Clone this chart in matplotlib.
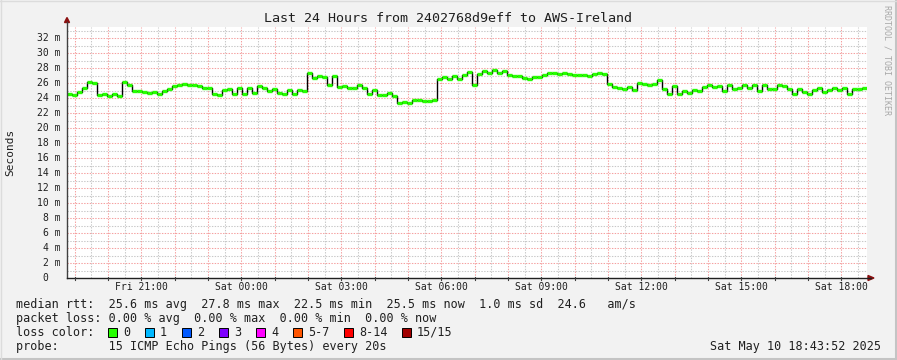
import matplotlib
matplotlib.use("Agg")
import matplotlib.pyplot as plt
from matplotlib.lines import Line2D
from matplotlib.patches import Polygon, Rectangle
import numpy as np

plt.rcParams['font.family'] = ['DejaVu Sans Mono']
plt.rcParams['lines.scale_dashes'] = False

# ---- data ----
title = "Last 24 Hours from 2402768d9eff to AWS-Ireland"
start_hour = 18.772          # Fri 18:46 (hours since Fri 00:00)
step_hours = 0.15            # 9 minutes per sample
median_rtt_ms = [
    24.6, 24.4, 24.8, 25.4, 26.1, 26.0, 24.4, 24.6, 24.3, 24.5,
    24.3, 26.2, 25.8, 24.9, 24.9, 24.8, 24.7, 24.8, 24.6, 24.9,
    25.2, 25.6, 25.7, 25.9, 25.7, 25.7, 25.6, 25.3, 25.4, 24.5,
    24.4, 25.1, 25.2, 24.5, 25.4, 24.5, 25.3, 24.7, 25.6, 25.3,
    25.0, 25.2, 24.7, 24.6, 25.1, 24.5, 25.1, 25.0, 27.3, 26.7,
    26.9, 26.8, 25.8, 26.9, 25.5, 25.6, 25.4, 25.3, 25.8, 25.4,
    24.6, 25.1, 24.4, 24.4, 24.7, 24.3, 23.3, 23.5, 23.4, 23.8,
    23.8, 23.6, 23.6, 23.7, 26.5, 26.8, 26.6, 27.0, 26.6, 27.1,
    27.5, 25.8, 27.2, 27.6, 27.3, 27.8, 27.4, 27.6, 27.1, 26.9,
    27.0, 26.7, 26.6, 26.8, 26.8, 27.1, 27.3, 27.4, 27.2, 27.4,
    27.2, 27.1, 27.1, 27.1, 27.0, 27.2, 27.3, 27.2, 25.9, 25.5,
    25.4, 25.2, 25.5, 25.1, 26.0, 25.9, 25.7, 25.9, 26.4, 25.2,
    24.6, 25.6, 24.6, 25.0, 24.7, 25.1, 24.9, 25.5, 25.7, 25.5,
    25.6, 24.9, 25.7, 25.2, 25.3, 25.7, 25.4, 25.7, 25.0, 25.8,
    25.2, 25.2, 25.7, 25.6, 25.2, 24.5, 25.2, 24.8, 24.6, 25.1,
    25.3, 24.8, 25.1, 25.3, 25.1, 25.3, 24.6, 25.2, 25.2, 25.4,
]
x_tick_hours = [21, 24, 27, 30, 33, 36, 39, 42]
x_tick_labels = ["Fri 21:00", "Sat 00:00", "Sat 03:00", "Sat 06:00",
                 "Sat 09:00", "Sat 12:00", "Sat 15:00", "Sat 18:00"]
y_ticks = list(range(0, 33, 2))
y_tick_labels = ["0  "] + [f"{v} m" for v in y_ticks[1:]]
loss_labels = ["0", "1", "2", "3", "4", "5-7", "8-14", "15/15"]
loss_colors = ["#26ff00", "#00b8ff", "#0059ff", "#7e00ff", "#ff00ff",
               "#ff5500", "#ff0000", "#a10000"]
legend_lines = [
    "median rtt:  25.6 ms avg  27.8 ms max  22.5 ms min  25.5 ms now  1.0 ms sd  24.6   am/s",
    "packet loss: 0.00 % avg  0.00 % max  0.00 % min  0.00 % now",
    "loss color:",
    "probe:       15 ICMP Echo Pings (56 Bytes) every 20s",
]
timestamp = "Sat May 10 18:43:52 2025"

# ---- figure ----
W, H = 897, 360
fig = plt.figure(figsize=(W / 100, H / 100), dpi=100, facecolor="#f2f2f2")


def fx(x):
    return x / W


def fy(y):
    return 1 - y / H


L, R, T, B = 67, 867, 27, 278
ax = fig.add_axes([fx(L), fy(B), (R - L) / W, (B - T) / H], facecolor="white")
ymax = (B - T) / 7.5
xmin, xmax = start_hour, start_hour + 24
ax.set_xlim(xmin, xmax)
ax.set_ylim(0, ymax)
for s in ax.spines.values():
    s.set_visible(False)
ax.set_xticks([])
ax.set_yticks([])

dot = (0, (1.0, 1.0))
# minor grid
for h in np.arange(np.ceil(xmin * 2) / 2, xmax, 0.5):
    if abs(h - round(h)) > 1e-6:
        ax.axvline(h, color="#c8c8c8", lw=0.75, ls=dot, zorder=1)
for v in range(1, 34, 2):
    ax.axhline(v, color="#c8c8c8", lw=0.75, ls=dot, zorder=1)
# major grid
for h in range(int(np.ceil(xmin)), int(xmax) + 1):
    ax.axvline(h, color="#f5a0a0", lw=0.75, ls=dot, zorder=1.5)
for v in y_ticks[1:]:
    ax.axhline(v, color="#f5a0a0", lw=0.75, ls=dot, zorder=1.5)

# data
vals = np.array(median_rtt_ms)
n = len(vals)
edges = start_hour + step_hours * np.arange(n + 1)
ax.step(edges, np.append(vals, vals[-1]), where="post", color="#000000",
        lw=1.0, zorder=3)
ax.hlines(vals, edges[:-1], edges[1:], color="#26ff00", lw=2.4, zorder=4)

# axes lines and arrows
axc = "#404040"
fig.add_artist(Line2D([fx(L), fx(L)], [fy(B), fy(22)], color=axc, lw=1.0))
fig.add_artist(Line2D([fx(L), fx(871)], [fy(B), fy(B)], color="#202020", lw=1.0))
fig.add_artist(Polygon([[fx(64.5), fy(22.5)], [fx(69.5), fy(22.5)], [fx(67), fy(17.5)]],
                       closed=True, color="#8b1010", transform=fig.transFigure))
fig.add_artist(Polygon([[fx(868), fy(275.5)], [fx(868), fy(280.5)], [fx(874), fy(278)]],
                       closed=True, color="#8b1010", transform=fig.transFigure))
# x ticks
for h in range(int(np.ceil(xmin)), int(xmax) + 1):
    xp = L + (h - xmin) / 24 * (R - L)
    fig.add_artist(Line2D([fx(xp), fx(xp)], [fy(B - 1), fy(B + 2)], color=axc, lw=0.8))

# tick labels
for h, lab in zip(x_tick_hours, x_tick_labels):
    xp = L + (h - xmin) / 24 * (R - L)
    fig.text(fx(xp), fy(287.5), lab, ha="center", va="center", fontsize=7.05,
             color="#202020")
for v, lab in zip(y_ticks, y_tick_labels):
    yp = B - v * 7.5
    fig.text(fx(60.5), fy(yp), lab, ha="right", va="center", fontsize=7.05,
             color="#202020")

# title & labels
fig.text(fx(448), fy(19), title, ha="center", va="center", fontsize=9.6,
         color="#202020")
fig.text(fx(10), fy(152), "Seconds", rotation=90, ha="center", va="center",
         fontsize=8.0, color="#202020")
fig.text(fx(887), fy(60), "RRDTOOL / TOBI OETIKER", rotation=-90, ha="center",
         va="center", fontsize=6.0, color="#a8a8a8")

# legend
line_y = [304.3, 318.3, 332.2, 346.2]
for y, txt in zip(line_y, legend_lines):
    fig.text(fx(16), fy(y), txt, ha="left", va="center", fontsize=8.5,
             color="#202020")
box_x = [108, 145, 182, 219, 256, 293, 344, 402]
for bx, lab, col in zip(box_x, loss_labels, loss_colors):
    fig.add_artist(Rectangle((fx(bx), fy(336.5)), 8.5 / W, 8.5 / H,
                             facecolor=col, edgecolor="#000000", lw=0.7,
                             transform=fig.transFigure))
    fig.text(fx(bx + 15), fy(332.2), lab, ha="left", va="center", fontsize=8.5,
             color="#202020")
fig.text(fx(881), fy(346.2), timestamp, ha="right", va="center", fontsize=8.5,
         color="#202020")

# frame
fig.add_artist(Line2D([0, 1], [fy(359), fy(359)], color="#c4c4c4", lw=1.5))
fig.add_artist(Line2D([fx(896), fx(896)], [0, 1], color="#c4c4c4", lw=1.5))
fig.add_artist(Line2D([0, 1], [fy(0.5), fy(0.5)], color="#dcdcdc", lw=1.0))
fig.add_artist(Line2D([fx(0.5), fx(0.5)], [0, 1], color="#dcdcdc", lw=1.0))

fig.savefig("out.png", dpi=100, facecolor=fig.get_facecolor())
